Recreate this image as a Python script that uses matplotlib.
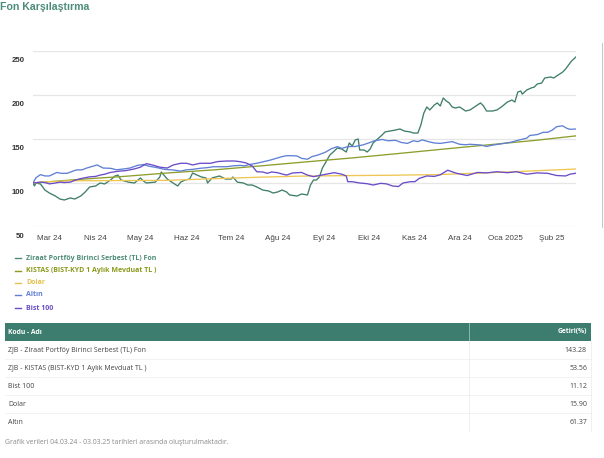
import matplotlib
matplotlib.use("Agg")
import matplotlib.pyplot as plt
import matplotlib.transforms as mtransforms
import pandas as pd

W, H = 604, 458
START = pd.Timestamp("2024-03-04")
END = pd.Timestamp("2025-03-03")

title = "Fon Karşılaştırma"

# ---- series (day offset from 04.03.24, indexed value) ----
ziraat_days = [0, 1, 2, 5, 8, 11, 15, 18, 21, 25, 28, 32, 35, 38, 42, 45, 48, 52, 55, 57,
               59, 64, 68, 72, 74, 76, 82, 85, 86, 90, 93, 97, 99, 102, 105, 107, 110, 113,
               116, 117, 120, 125, 129, 133, 134, 137, 141, 144, 147, 150, 154, 158, 161,
               164, 167, 170, 172, 177, 180, 184, 186, 188, 190, 192, 194, 197, 199, 202,
               204, 207, 210, 212, 214, 216, 218, 219, 222, 224, 226, 228, 231, 234, 236,
               239, 243, 246, 249, 253, 255, 258, 260, 262, 264, 266, 269, 271, 273, 275,
               277, 279, 281, 283, 286, 290, 293, 296, 300, 302, 304, 308, 311, 314, 318,
               321, 323, 325, 327, 328, 331, 334, 336, 338, 341, 343, 347, 349, 352, 355,
               357, 359, 361, 364]
ziraat_vals = [100, 96.6, 100, 98.9, 92, 88.6, 85.2, 81.8, 80.7, 83, 81.8, 85.2, 89.8, 95.5,
               96.6, 100, 98.9, 103.4, 108, 109, 103.4, 101, 100, 105.7, 102.3, 100, 101,
               106.8, 112.5, 104.5, 101, 96.6, 101, 103.4, 104.5, 111.4, 109, 106.8, 105.7,
               100, 105.7, 108, 104.5, 104.5, 106.8, 101, 100, 97.7, 97.7, 95.5, 92, 90.9,
               88.6, 89.8, 92, 89.8, 86.4, 85.2, 87.5, 86.4, 97.7, 103.4, 103.4, 106.8, 117,
               126, 131.8, 136.4, 139.8, 138.6, 135.2, 145.5, 142, 148.9, 150, 137.5, 137.5,
               135.2, 138.6, 145.5, 150, 154.5, 158, 159, 160.2, 161.4, 159, 158, 156.8,
               156.8, 165.9, 179.5, 186.4, 183, 188.6, 191, 187.5, 196.6, 193.2, 191, 186.4,
               185.2, 186.4, 181.8, 183, 186.4, 191, 187.5, 181.8, 181.8, 183, 186.4, 192,
               194.3, 192, 203.4, 204.5, 201, 205.7, 208, 209, 212.5, 213.6, 219.3, 220.5,
               219.3, 222.7, 226, 229.5, 234, 238.6, 243.28]

kistas_days = [0, 30, 61, 91, 122, 153, 183, 214, 245, 275, 306, 337, 364]
kistas_vals = [100, 104, 107.5, 111.5, 115, 119.5, 124, 128.5, 133.5, 138.5, 143.5, 148.5, 153.56]

dolar_days = [0, 10, 25, 60, 90, 120, 150, 179, 210, 240, 270, 300, 330, 364]
dolar_vals = [100, 101.5, 102.5, 102.8, 103, 104.8, 106.5, 107.8, 108.4, 108.8, 109.5, 111.3, 113.4, 115.9]

altin_days = [0, 2, 5, 8, 11, 16, 19, 23, 26, 29, 33, 36, 40, 43, 47, 52, 56, 61, 65, 70, 74,
              78, 83, 88, 94, 99, 103, 107, 112, 117, 121, 125, 130, 134, 139, 142, 145, 150,
              154, 159, 164, 167, 170, 174, 177, 180, 184, 187, 191, 196, 200, 204, 207, 211,
              216, 221, 225, 229, 234, 238, 243, 247, 251, 255, 258, 261, 265, 269, 273, 277,
              281, 286, 290, 293, 300, 304, 308, 313, 320, 326, 331, 333, 338, 342, 345, 348,
              351, 355, 358, 360, 364]
altin_vals = [100, 106, 109.5, 108, 108, 112, 111, 111, 113, 114.8, 115, 117, 119, 120.5, 117,
              116.7, 115, 116, 117, 120, 121, 119, 117.5, 115.5, 114.8, 113.5, 115, 115.5,
              116.7, 117.5, 118.5, 118.5, 118.5, 119.5, 120, 119.5, 121, 122.4, 124, 126,
              128.5, 130, 131, 131, 130.7, 128, 127, 130, 131.8, 135, 139, 141.3, 139.4,
              141.3, 141.5, 143.2, 145.5, 148, 149.5, 148, 148.5, 146, 145, 148, 147, 149,
              147, 145.5, 145, 146, 147, 144, 143.5, 144, 143.2, 141.5, 143, 144.3, 146.2,
              148.9, 151, 154, 155, 157.6, 157.6, 160, 164, 165, 162, 161, 161.37]

bist_days = [0, 5, 8, 11, 15, 18, 21, 25, 28, 32, 35, 38, 42, 45, 48, 52, 55, 58, 62, 65, 68,
             72, 76, 80, 85, 90, 94, 99, 103, 107, 112, 119, 124, 130, 135, 139, 143, 147,
             150, 154, 157, 160, 164, 167, 170, 174, 177, 180, 184, 188, 192, 198, 202, 207,
             210, 211, 214, 219, 224, 228, 233, 237, 241, 245, 248, 253, 256, 259, 264, 269,
             273, 278, 284, 291, 298, 304, 311, 318, 324, 331, 338, 345, 351, 357, 360, 364]
bist_vals = [100, 101, 100.5, 99, 100, 101, 100.5, 101, 103, 105, 106, 107, 107.5, 109, 110,
             112, 112.8, 113.5, 114, 115, 116, 118, 122, 120.5, 118, 117, 120.5, 122.4, 122.4,
             120.5, 122.4, 122.4, 124.4, 125, 125, 124.2, 122.7, 119.3, 112.8, 112.5, 111,
             112.5, 111.7, 110.2, 109, 111.4, 111.7, 112, 109, 107.2, 108.5, 110.5, 111.7,
             110, 108, 101.5, 101.5, 100, 99.2, 97.7, 99.6, 99, 96.6, 96, 100, 101.5, 101.5,
             105.3, 108, 107.5, 109.3, 114.5, 111, 108.5, 112, 111.5, 112.8, 111.7, 112.8,
             110, 111.5, 111, 108.5, 108, 110, 111.12]

series_names = ["Ziraat Portföy Birinci Serbest (TL) Fon",
                "KISTAS (BIST-KYD 1 Aylık Mevduat TL )",
                "Dolar", "Altın", "Bist 100"]
series_days = [ziraat_days, kistas_days, dolar_days, altin_days, bist_days]
series_vals = [ziraat_vals, kistas_vals, dolar_vals, altin_vals, bist_vals]
line_colors = ["#3f7f68", "#8c9f2c", "#eec653", "#6080d6", "#6a4cc8"]
text_colors = ["#4d8c78", "#8a9a1c", "#e6c04e", "#5f7fd0", "#6a4cc8"]

tick_dates = ["2024-03-15", "2024-04-15", "2024-05-15", "2024-06-15", "2024-07-15",
              "2024-08-15", "2024-09-15", "2024-10-15", "2024-11-15", "2024-12-15",
              "2025-01-15", "2025-02-15"]
tick_labels = ["Mar 24", "Nis 24", "May 24", "Haz 24", "Tem 24", "Ağu 24", "Eyl 24",
               "Eki 24", "Kas 24", "Ara 24", "Oca 2025", "Şub 25"]
y_ticks = [50, 100, 150, 200, 250]

table_header = ["Kodu - Adı", "Getiri(%)"]
table_names = ["ZJB - Ziraat Portföy Birinci Serbest (TL) Fon",
               "ZJB - KISTAS (BIST-KYD 1 Aylık Mevduat TL )",
               "Bist 100", "Dolar", "Altın"]
table_returns = ["143.28", "53.56", "11.12", "15.90", "61.37"]
footer = "Grafik verileri 04.03.24 - 03.03.25 tarihleri arasında oluşturulmaktadır."

# ---- figure ----
fig = plt.figure(figsize=(W / 100, H / 100), dpi=100)
fig.patch.set_facecolor("white")


def fx(x):
    return x / W


def fy(y):
    return 1 - y / H


fig.text(fx(0), fy(7), title, color="#4b8c7a", fontsize=7.6, fontweight="bold",
         family="Liberation Sans", va="center", ha="left")

ax = fig.add_axes([fx(33), fy(227), (576 - 33) / W, (227 - 51) / H])
for s in ax.spines.values():
    s.set_visible(False)
ax.set_ylim(50, 250)
ax.set_xlim(START, END)
ax.set_yticks(y_ticks)
ax.set_yticklabels([str(v) for v in y_ticks], fontsize=5.6, fontweight="bold",
                   color="#333333", family="Liberation Sans")
ax.set_xticks(pd.to_datetime(tick_dates))
ax.set_xticklabels(tick_labels, fontsize=5.8, color="#444444", family="Liberation Sans")
ax.tick_params(axis="both", length=0)
ax.tick_params(axis="y", pad=6)
ax.tick_params(axis="x", pad=6)
ax.grid(axis="y", color="#e6e6e6", linewidth=0.9)
ax.set_axisbelow(True)
off = mtransforms.ScaledTranslation(0, -8 / 100, fig.dpi_scale_trans)
for lab in ax.get_yticklabels():
    lab.set_transform(lab.get_transform() + off)

for days, vals, col in zip(series_days, series_vals, line_colors):
    dates = START + pd.to_timedelta(days, unit="D")
    ax.plot(dates, vals, color=col, linewidth=0.95, solid_joinstyle="round")

# legend
leg_y = [258, 271, 283, 295, 308]
for name, col, y in zip(series_names, text_colors, leg_y):
    fig.add_artist(plt.Line2D([fx(15), fx(21)], [fy(y), fy(y)], color=col, linewidth=1.0))
    fig.text(fx(26), fy(y), name, color=col, fontsize=5.0, fontweight="bold",
             family="Open Sans", va="center", ha="left")

# right edge scroll line
fig.add_artist(plt.Line2D([fx(602), fx(602)], [fy(43), fy(227)], color="#bbbbbb", linewidth=0.6))

# table
hdr_color = "#3d7d6f"
fig.add_artist(plt.Rectangle((fx(5), fy(341)), fx(591) - fx(5), fy(323) - fy(341),
                             transform=fig.transFigure, color=hdr_color, lw=0))
fig.add_artist(plt.Line2D([fx(469), fx(469)], [fy(323), fy(341)], color="#9cc0b6", linewidth=0.6))
fig.text(fx(8), fy(332), table_header[0], color="white", fontsize=4.9, fontweight="bold",
         family="Open Sans", va="center", ha="left")
fig.text(fx(587), fy(332), table_header[1], color="white", fontsize=4.9, fontweight="bold",
         family="Open Sans", va="center", ha="right")
row_y = [350, 368, 386, 404, 422]
for i, (nm, rv, y) in enumerate(zip(table_names, table_returns, row_y)):
    fig.text(fx(8), fy(y), nm, color="#444444", fontsize=5.0, family="Open Sans",
             va="center", ha="left")
    fig.text(fx(587), fy(y), rv, color="#444444", fontsize=5.0, family="Open Sans",
             va="center", ha="right")
    if i < len(row_y) - 1:
        fig.add_artist(plt.Line2D([fx(5), fx(591)], [fy(y + 9), fy(y + 9)],
                                  color="#f0f0f0", linewidth=0.6))
fig.add_artist(plt.Line2D([fx(469), fx(469)], [fy(341), fy(431)], color="#eeeeee", linewidth=0.6))
fig.add_artist(plt.Line2D([fx(591), fx(591)], [fy(341), fy(431)], color="#eeeeee", linewidth=0.6))

fig.text(fx(5), fy(442), footer, color="#8a8a8a", fontsize=4.95, family="Open Sans",
         va="center", ha="left")

fig.savefig("out.png", dpi=100, facecolor="white")
